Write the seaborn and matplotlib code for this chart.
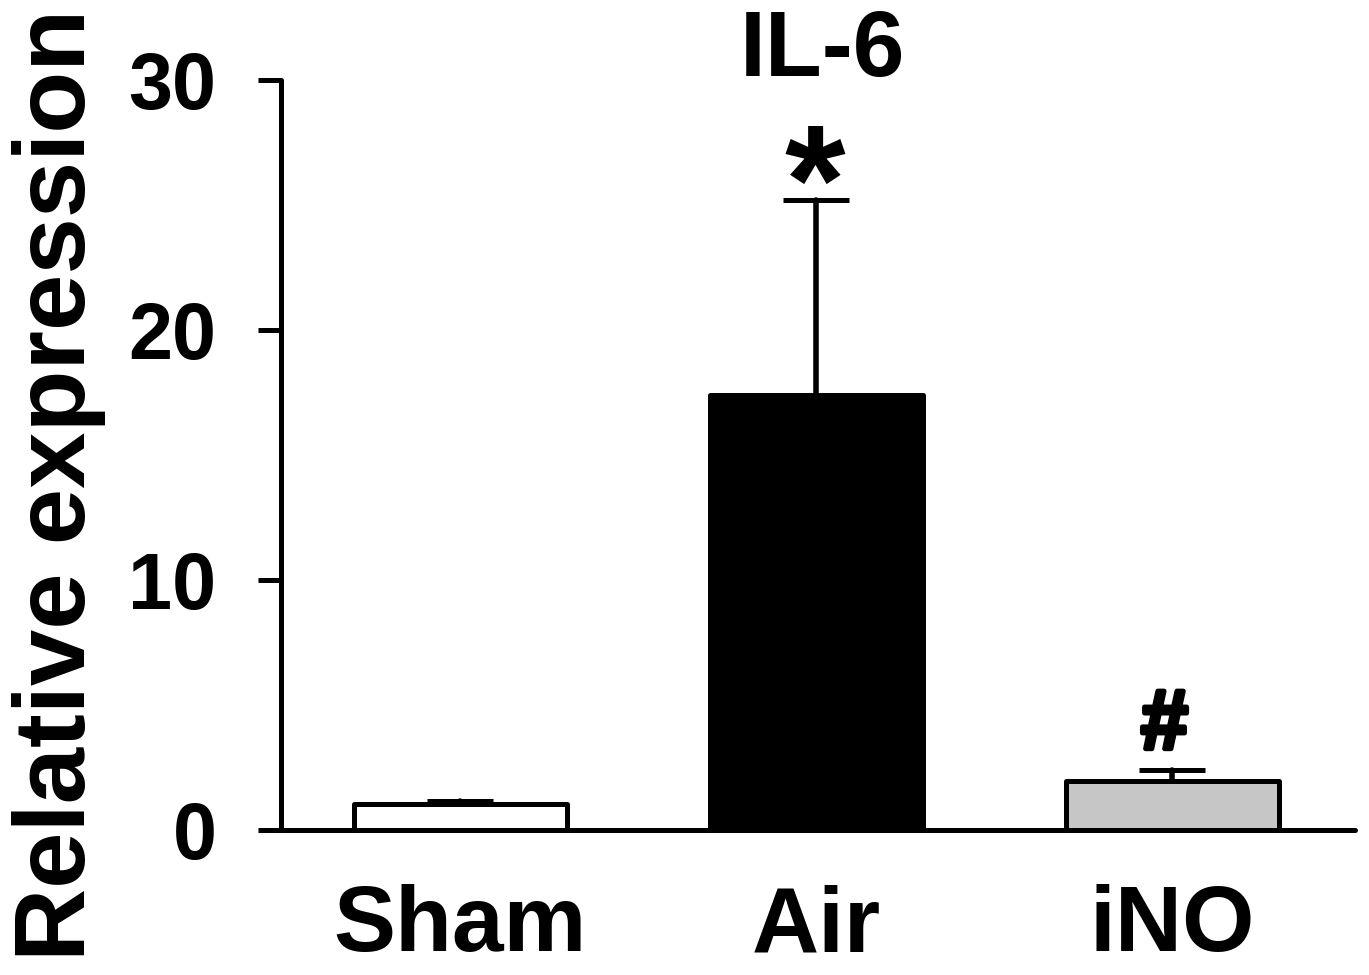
import matplotlib
matplotlib.use("Agg")
import matplotlib.pyplot as plt
import matplotlib.patheffects as pe
import seaborn as sns
import pandas as pd

groups = ["Sham", "Air", "iNO"]
means = [1.05, 17.4, 1.96]
errs_upper = [0.12, 7.8, 0.44]
bar_colors = ["#ffffff", "#000000", "#c6c6c6"]
marks = ["", "*", "#"]
title = "IL-6"
ylabel = "Relative expression"
yticks = [0, 10, 20, 30]

sns.set_theme(style="white")
plt.rcParams['font.family'] = ['Liberation Sans', 'DejaVu Sans']
plt.rcParams['font.weight'] = 'bold'
plt.rcParams['text.color'] = 'black'
plt.rcParams['axes.labelcolor'] = 'black'
plt.rcParams['xtick.color'] = 'black'
plt.rcParams['ytick.color'] = 'black'

df = pd.DataFrame({"group": groups, "value": means})

fig = plt.figure(figsize=(13.69, 9.75), dpi=100)
ax = fig.add_axes([281/1369, 1-830/975, (1355-281)/1369, (830-80)/975])

lw = 3.6
sns.barplot(data=df, x="group", y="value", hue="group", palette=bar_colors,
            order=groups, hue_order=groups, width=0.6, errorbar=None,
            edgecolor="black", linewidth=lw, legend=False, ax=ax, saturation=1)
for p in ax.patches:
    p.set_joinstyle("round")

xs = list(range(len(groups)))
eb = ax.errorbar(xs, means, yerr=[[0]*len(groups), errs_upper], fmt="none",
                 ecolor="black", elinewidth=4.0, capsize=24, capthick=lw, zorder=3)
for line in eb[1]:
    line.set_solid_capstyle("round")
for lc in eb[2]:
    lc.set_capstyle("round")

# significance marks
ax.text(xs[1] - 0.005, 23.9, marks[1], ha="center", va="baseline",
        fontsize=112, fontweight="bold", color="black")
ax.text(xs[2] - 0.022, 3.25, marks[2], ha="center", va="baseline",
        fontsize=61, fontweight="bold", color="black",
        path_effects=[pe.withStroke(linewidth=3.5, foreground="black")])

ax.set_xlim(-0.504, 2.513)
ax.set_ylim(0, 30)
ax.set_yticks(yticks)
ax.set_yticklabels([str(t) for t in yticks])
ax.set_xlabel("")
ax.set_ylabel("")

for s in ["top", "right"]:
    ax.spines[s].set_visible(False)
for s in ["left", "bottom"]:
    ax.spines[s].set_linewidth(lw)
    ax.spines[s].set_color("black")
    ax.spines[s].set_capstyle("round")

ax.tick_params(axis="y", direction="out", length=16.5, width=lw, pad=30,
               labelsize=57, colors="black", left=True)
ax.tick_params(axis="x", length=0, pad=39, labelsize=67, colors="black")
for lab in ax.get_xticklabels() + ax.get_yticklabels():
    lab.set_fontweight("bold")
    lab.set_color("black")

ax.text(0.5037, 1.005, title, transform=ax.transAxes, ha="center",
        va="baseline", fontsize=67, fontweight="bold", color="black")

fig.text(59/1369, 1-485/975, ylabel, rotation=90, ha="center", va="center",
         fontsize=73, fontweight="bold", color="black")

fig.savefig("out.png", dpi=100, facecolor="white")
